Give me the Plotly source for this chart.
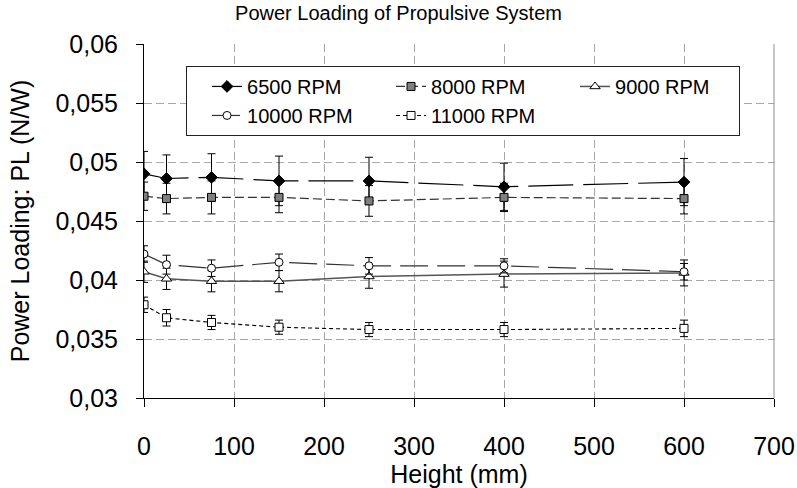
import plotly.graph_objects as go

# ---- data ----
height_mm = [0, 25, 75, 150, 250, 400, 600]

series_names = ["6500 RPM", "8000 RPM", "9000 RPM", "10000 RPM", "11000 RPM"]

pl_6500 = [0.0490, 0.0486, 0.0487, 0.0484, 0.0484, 0.0479, 0.0483]
err_6500 = [0.0019, 0.0020, 0.0020, 0.0021, 0.0020, 0.0020, 0.0020]

pl_8000 = [0.0471, 0.0469, 0.0470, 0.0470, 0.0467, 0.0470, 0.0469]
err_8000 = [0.0012, 0.0013, 0.0014, 0.0013, 0.0013, 0.0012, 0.0013]

pl_9000 = [0.0407, 0.0401, 0.0399, 0.0399, 0.0403, 0.0405, 0.0406]
err_9000 = [0.0009, 0.0009, 0.0009, 0.0009, 0.0010, 0.0011, 0.0011]

pl_10000 = [0.0422, 0.0413, 0.0410, 0.0415, 0.0412, 0.0412, 0.0407]
err_10000 = [0.0007, 0.0008, 0.0007, 0.0007, 0.0007, 0.0006, 0.0007]

pl_11000 = [0.0379, 0.0368, 0.0364, 0.0360, 0.0358, 0.0358, 0.0359]
err_11000 = [0.00065, 0.0007, 0.0006, 0.0006, 0.0006, 0.0006, 0.0007]

y_tick_vals = [0.03, 0.035, 0.04, 0.045, 0.05, 0.055, 0.06]
y_tick_text = ["0,03", "0,035", "0,04", "0,045", "0,05", "0,055", "0,06"]
x_tick_vals = [0, 100, 200, 300, 400, 500, 600, 700]

FONT = "Liberation Sans, Arial, sans-serif"

styles = [
    dict(y=pl_6500, e=err_6500, symbol="diamond", size=9, fill="black",
         lcolor="black", dash="45px,10px", lw=1.2),
    dict(y=pl_8000, e=err_8000, symbol="square", size=8, fill="#7f7f7f",
         lcolor="#333333", dash="9px,4px", lw=1.2),
    dict(y=pl_9000, e=err_9000, symbol="triangle-up", size=9, fill="white",
         lcolor="#555555", dash="solid", lw=1.5),
    dict(y=pl_10000, e=err_10000, symbol="circle", size=8, fill="white",
         lcolor="#333333", dash="28px,9px", lw=1.2),
    dict(y=pl_11000, e=err_11000, symbol="square", size=8, fill="white",
         lcolor="black", dash="4px,3px", lw=1.1),
]

fig = go.Figure()
for name, s in zip(series_names, styles):
    fig.add_trace(go.Scatter(
        x=height_mm, y=s["y"], name=name, mode="lines+markers",
        line=dict(color=s["lcolor"], width=s["lw"], dash=s["dash"]),
        marker=dict(symbol=s["symbol"], size=s["size"], color=s["fill"],
                    line=dict(color="black", width=1)),
        error_y=dict(type="data", array=s["e"], visible=True,
                     color="black", thickness=1, width=4),
    ))

fig.update_layout(
    width=797, height=488,
    margin=dict(l=144, r=23, t=44, b=90),
    paper_bgcolor="white", plot_bgcolor="white",
    font=dict(family=FONT, color="black"),
    showlegend=True,
    title=dict(text="Power Loading of Propulsive System",
               font=dict(size=20, family=FONT, color="black"),
               x=0.5, xanchor="center", y=0.974, yanchor="middle"),
    legend=dict(orientation="h", x=0.0667, y=0.938, xanchor="left", yanchor="top",
                entrywidth=119, entrywidthmode="pixels", indentation=20,
                bgcolor="white", bordercolor="#222222", borderwidth=1,
                font=dict(size=20, family=FONT, color="black"),
                tracegroupgap=0),
    xaxis=dict(range=[0, 700], tickvals=x_tick_vals, showgrid=True, automargin=False,
               gridcolor="#a6a6a6", griddash="8px,4px", gridwidth=1,
               showline=True, linecolor="black", linewidth=1,
               ticks="outside", ticklen=8, tickcolor="black",
               tickfont=dict(size=25, family=FONT), ticklabelstandoff=18,
               zeroline=False,
               title=dict(text="Height (mm)", font=dict(size=25, family=FONT),
                          standoff=4)),
    yaxis=dict(range=[0.03, 0.06], tickvals=y_tick_vals, ticktext=y_tick_text,
               showgrid=True, automargin=False,
               gridcolor="#a6a6a6", griddash="8px,4px", gridwidth=1,
               showline=True, linecolor="black", linewidth=1,
               ticks="outside", ticklen=7, tickcolor="black",
               tickfont=dict(size=25, family=FONT), ticklabelstandoff=13,
               zeroline=False,
               title=dict(text="Power Loading: PL (N/W)",
                          font=dict(size=25, family=FONT), standoff=18)),
    yaxis2=dict(range=[0.03, 0.06], tickvals=y_tick_vals, overlaying="y",
                side="left", showgrid=False, showline=False, zeroline=False,
                automargin=False,
                ticks="inside", ticklen=7, tickcolor="black",
                showticklabels=False),
    shapes=[dict(type="line", xref="paper", yref="paper", x0=1, x1=1, y0=0, y1=1,
                 line=dict(color="#8c8c8c", width=1))],
)

fig.write_html("out.html")
